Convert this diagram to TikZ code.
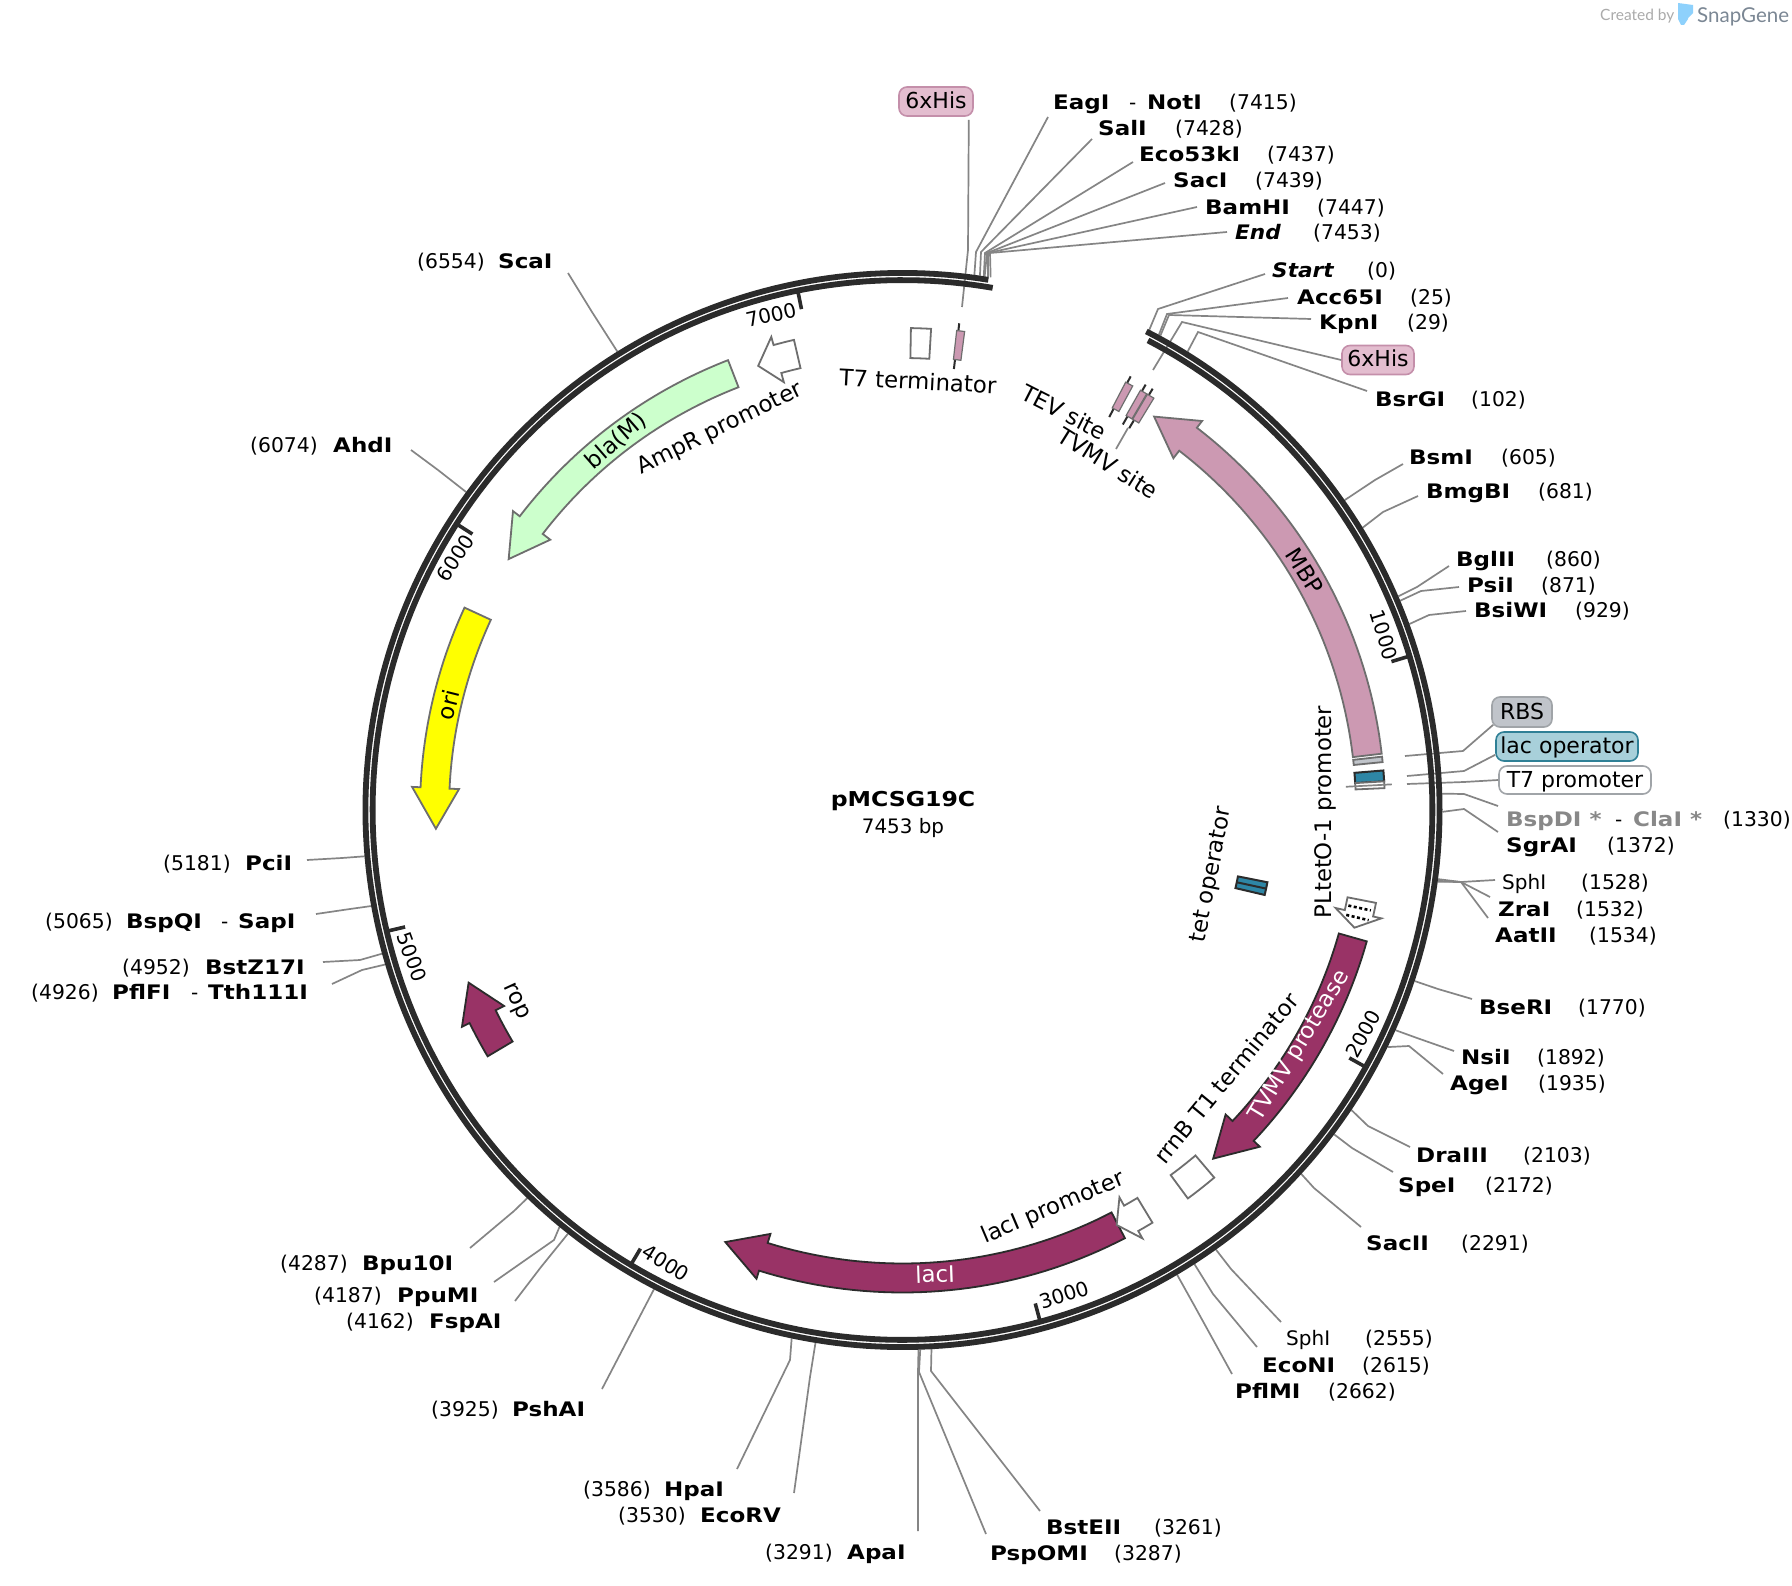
\documentclass[tikz,border=0pt]{standalone}
\usepackage{fontspec}
\setmainfont{DejaVu Sans}[BoldFeatures={FakeStretch=1.15},BoldItalicFeatures={FakeStretch=1.08}]
\newfontfamily\brandfont{Lato}
\usetikzlibrary{calc}
\definecolor{RingDark}{HTML}{2B2B2B}
\definecolor{LeaderGray}{HTML}{858585}
\definecolor{EdgeGray}{HTML}{6E6E6E}
\definecolor{SiteGray}{HTML}{888888}
\definecolor{PinkFeat}{HTML}{CC99B2}
\definecolor{PinkPill}{HTML}{E3BDCF}
\definecolor{PinkEdge}{HTML}{C48FAA}
\definecolor{GreenFeat}{HTML}{CCFFCC}
\definecolor{YellowFeat}{HTML}{FFFF00}
\definecolor{Magenta}{HTML}{993366}
\definecolor{BlueFeat}{HTML}{2E86A5}
\definecolor{BluePill}{HTML}{A8D0DA}
\definecolor{BlueEdge}{HTML}{2F8096}
\definecolor{GrayPill}{HTML}{C0C4CA}
\definecolor{GrayEdge}{HTML}{A0A4A8}
\definecolor{LogoBlue}{HTML}{8ED1FC}
\definecolor{LogoText}{HTML}{7B8794}
\tikzset{
  ring/.style={draw=RingDark,line width=5.8pt},
  tickmark/.style={draw=RingDark,line width=3.6pt},
  leader/.style={draw=LeaderGray,line width=1.7pt},
  site/.style={anchor=base west,inner sep=0pt,font=\bfseries\fontsize{20}{24}\selectfont},
  sitenum/.style={anchor=base west,inner sep=0pt,font=\fontsize{20.3}{24}\selectfont},
  featlabel/.style={inner sep=0pt,font=\fontsize{22.8}{26}\selectfont},
  pill/.style={draw,line width=1.6pt,rounded corners=8pt,inner sep=0pt,
    text height=17pt,text depth=3pt,font=\fontsize{22}{26}\selectfont},
  plainfeat/.style={draw=EdgeGray,line width=1.8pt,line join=miter},
  darkfeat/.style={draw=RingDark,line width=1.8pt,fill=Magenta},
  headline/.style={draw=RingDark,line width=2pt},
}
\newcommand{\arcarrow}[4]{%
  \draw[#1] plot[domain=#2:#3,samples=40] (\x-90:482.5) -- (#3-90:491) -- (#4-90:467)
    -- (#3-90:444) -- plot[domain=#3:#2,samples=40] (\x-90:453.5) -- cycle;}
\newcommand{\arcbox}[5]{%
  \draw[#1] plot[domain=#2:#3,samples=12] (\x-90:#5)
    -- plot[domain=#3:#2,samples=12] (\x-90:#4) -- cycle;}
\begin{document}
\begin{tikzpicture}[x=1pt,y=-1pt,
  declare function={bpang(\p)=-62.8+\p*0.04592;}]
  \useasboundingbox (0,0) rectangle (1792,1586);
  \fill[white] (0,0) rectangle (1792,1586);
  \coordinate (ctr) at (902.5,810);

  \node[pill,fill=PinkPill,draw=PinkEdge,minimum width=74pt,minimum height=29pt] (histop) at (936,101.5) {6xHis};
  \node[pill,fill=PinkPill,draw=PinkEdge,minimum width=72pt,minimum height=29pt] (hisright) at (1378,360) {6xHis};
  \node[pill,fill=GrayPill,draw=GrayEdge,minimum width=60pt,minimum height=30pt] (rbs) at (1522,712) {RBS};
  \node[pill,fill=BluePill,draw=BlueEdge,minimum width=142pt,minimum height=29pt] (lacop) at (1567,746.5) {lac operator};
  \node[pill,fill=white,draw=GrayEdge,minimum width=152pt,minimum height=28pt] (tsevenprom) at (1575,780) {T7 promoter};

  \coordinate (histopend) at (962,307);
  \coordinate (hisrightend) at (1153,370);
  \coordinate (rbsend) at (1405,756);
  \coordinate (lacopend) at (1407,776);
  \coordinate (tsevenend) at (1407,784);
  \draw[leader] (histopend) -- (968,250) -- ($(histop.south east)+(-5,3)$);
  \draw[leader] (hisrightend) -- (1182,322) -- (hisright.west);
  \draw[leader] (rbsend) -- (1463,751) -- ($(rbs.south west)+(2,-3)$);
  \draw[leader] (lacopend) -- (1464,771) -- ($(lacop.south west)+(0,-7)$);
  \draw[leader] (tsevenend) -- (1464,782) -- (tsevenprom.west);

  \foreach \nm/\txt/\lx/\ly/\nx/\bp/\kx/\ky/\ex/\ey in {
    eag/EagI/1053/102.5/1229/7415/976/252/1048/117,
    sal/SalI/1098/128/1175/7428/981/252/1092/139,
    ecofive/Eco53kI/1139/154/1267/7437/985/253/1133/162,
    sac/SacI/1173/180/1255/7439/987/253/1165/183,
    bam/BamHI/1205/207/1317/7447/988/253/1197/207,
    endsite/\textit{End}/1235/232/1313/7453/990/253/1227/232,
    startsite/\textit{Start}/1272/270.5/1367/0/1158/309/1265/274,
    acc/Acc65I/1297/297/1410/25/1167/314/1288/298,
    kpn/KpnI/1319/322/1407/29/1169/315/1311/319,
    bsrg/BsrGI/1375/399/1471/102/1198/332/1367/391,
    bsm/BsmI/1409/457/1501/605/1375/480/1403/464,
    bmg/BmgBI/1426/491/1538/681/1383/512/1418/496,
    bgl/BglII/1456/559/1546/860/1417/587/1449/566,
    psi/PsiI/1467/585/1541/871/1421/591/1459/587,
    bsiw/BsiWI/1474/610/1575/929/1429/615/1466/611,
    bspd/\textcolor{SiteGray}{BspDI *}/1506/819/1723/1330/1464/794/1498/806,
    sgra/SgrAI/1506/845/1607/1372/1464/809/1498/832,
    sphone/\mdseries SphI/1502/882/1581/1528/1461/882/1495/880,
    zra/ZraI/1498/909/1576/1532/1461/882/1490/897,
    aat/AatII/1495/935/1589/1534/1461/882/1488/918,
    bser/BseRI/1479/1007/1578/1770/1438/989/1472/999,
    nsi/NsiI/1461/1057/1537/1892/1417/1038/1454/1051,
    age/AgeI/1450/1083/1538/1935/1409/1046/1443/1074,
    dra/DraIII/1416/1155/1523/2103/1368/1126/1410/1147,
    spe/SpeI/1398/1185/1485/2172/1352/1148/1393/1172,
    sactwo/SacII/1366/1243/1461/2291/1314/1188/1361/1227,
    sphtwo/\mdseries SphI/1286/1338/1365/2555/1231/1269/1281/1322,
    econ/EcoNI/1262/1365/1362/2615/1213/1294/1257/1347,
    pflm/PflMI/1235/1391/1328/2662/1194/1305/1232/1374,
    bste/BstEII/1046/1527/1154/3261/931/1371/1040/1511,
    pspo/PspOMI/990/1553/1114/3287/919/1372/986/1534,
    apa/ApaI/847/1552/765/3291/918/1372/918/1531,
    ecorv/EcoRV/700/1515/618/3530/810/1377/794/1493,
    hpa/HpaI/664/1489/583/3586/790/1360/737/1469,
    psha/PshAI/512/1409/431/3925/628/1339/602/1389,
    fsp/FspAI/429/1321/346/4162/541/1267/515/1301,
    ppu/PpuMI/397/1295/314/4187/554/1240/494/1282,
    bpu/Bpu10I/362/1263/280/4287/514/1211/470/1248,
    pflf/PflFI/112/992/31/4926/362/970/332/984,
    bstz/BstZ17I/205/967/122/4952/360/960/323/962,
    bspq/BspQI/126/921/45/5065/350/909/316/914,
    pci/PciI/245/863/163/5181/342/858/307/860,
    ahd/AhdI/333/445/250/6074/438/470/411/450,
    sca/ScaI/498/261/417/6554/592/312/568/273} {
    \node[site] (\nm) at (\lx,\ly+7.2) {\txt};
    \node[sitenum] (\nm num) at (\nx,\ly+7.2) {(\bp)};
    \coordinate (\nm ring) at ($(ctr)+({bpang(\bp)}:540)$);
    \coordinate (\nm knee) at (\kx,\ky);
    \coordinate (\nm end) at (\ex,\ey);
    \draw[leader] (\nm ring) -- (\nm knee) -- (\nm end);
  }
  \foreach \nm/\txt/\lx/\ly in {
    eagdash/\mdseries -/1129/102.5, noti/NotI/1147/102.5,
    bspdash/\mdseries -/1615/819, cla/\textcolor{SiteGray}{ClaI *}/1633/819,
    pflfdash/\mdseries -/191/992, tth/Tth111I/208/992,
    bspqdash/\mdseries -/221/921, sap/SapI/238/921} {
    \node[site] (\nm) at (\lx,\ly+7.2) {\txt};
  }

  \begin{scope}[shift={(ctr)}]
    \draw[ring] plot[domain=27:369.2,samples=300] (\x-90:537.1);
    \draw[ring] plot[domain=27.6:369.8,samples=300] (\x-90:529.9);
    \foreach \p in {1000,2000,...,7000} {
      \draw[tickmark] ({bpang(\p)}:528) -- ({bpang(\p)}:511);
    }
    \arcarrow{plainfeat,fill=PinkFeat}{83.3}{37.6}{32.6}
    \arcarrow{plainfeat,fill=GreenFeat}{338.8}{307.5}{302.5}
    \arcarrow{plainfeat,fill=YellowFeat}{294.8}{272.7}{267.7}
    \arcarrow{darkfeat}{105.8}{133.3}{138.3}
    \arcarrow{darkfeat}{152.55}{197.3}{202.3}
    \arcarrow{darkfeat}{239.3}{243.8}{248.3}
    \arcarrow{plainfeat,fill=white}{347}{344.5}{342}
    \arcarrow{plainfeat,fill=white}{148.8}{150.75}{152.7}
    \arcarrow{plainfeat,fill=white}{101.1}{102.75}{104.6}
    \draw[black,line width=2.6pt,dash pattern=on 3pt off 2.5pt] (12.1:456) -- (12.1:479);
    \draw[black,line width=2.6pt,dash pattern=on 3pt off 2.5pt] (13.3:456) -- (13.3:479);
    \arcbox{plainfeat,fill=white}{1.0}{3.4}{452}{482}
    \arcbox{plainfeat,fill=white}{139.7}{143.7}{453}{482}
    \arcbox{plainfeat,fill=GrayPill}{83.65}{84.3}{453.5}{482.5}
    \arcbox{headline,fill=BlueFeat}{85.3}{86.6}{453.5}{482.5}
    \arcbox{plainfeat,fill=white}{86.6}{87.4}{453.5}{482.5}
    \draw[leader] (-3:444) -- (-3:490);
    \arcbox{headline,fill=BlueFeat}{101.2}{103.2}{342}{372}
    \draw[headline] (12.2:342) -- (12.2:372);
    \foreach \af/\at/\ah in {6.45/7.4/6.65,27.55/28.5/27.75,29.55/30.4/29.75,30.5/31.4/30.7} {
      \draw[headline] (\ah-90:444) -- (\ah-90:490);
      \arcbox{draw=EdgeGray,line width=1.2pt,fill=PinkFeat}{\af}{\at}{453.5}{482.5}
    }
  \end{scope}

  \foreach \nm/\txt/\x/\y/\rot in {
    tseventerm/T7 terminator/918/381/-3,
    tevsite/TEV site/1064/412/-27,
    tvmvsite/TVMV site/1108/463/-32,
    amprprom/AmpR promoter/720/429/26,
    blam/bla(M)/616/441/41,
    orilab/ori/448/705/76,
    mbplab/MBP/1305/571/-58,
    pltet/PLtetO-1 promoter/1325/812/90,
    tetop/tet operator/1212/875/79,
    tvmvprot/\textcolor{white}{TVMV protease}/1300/1046/59,
    rrnb/rrnB T1 terminator/1226/1078/50.5,
    laciprom/lacI promoter/1053/1208/23,
    lacilab/\textcolor{white}{lacI}/935/1274/2,
    roplab/rop/515/1002/-65} {
    \node[featlabel,rotate=\rot] (\nm) at (\x,\y) {\txt};
  }
  \coordinate (tvmvend) at (1128,428);
  \draw[leader] (1116,449) -- (tvmvend);

  \foreach \p/\x/\y/\rot in {
    1000/1384/635/-73, 2000/1363/1034/61, 3000/1064/1295/18, 4000/666/1263/-32,
    5000/412/957/-70, 6000/455/558/57, 7000/771/315/13} {
    \node[featlabel,font=\fontsize{20}{24}\selectfont,rotate=\rot] (tick\p) at (\x,\y) {\p};
  }

  \node[inner sep=0pt,font=\bfseries\fontsize{20.5}{26}\selectfont] (plasmid) at (903,801) {pMCSG19C};
  \node[inner sep=0pt,font=\fontsize{19.9}{22}\selectfont] (plasmidsize) at (903,828) {7453 bp};

  \node[anchor=base west,inner sep=0pt,text=black!33,font=\brandfont\fontsize{15.5}{18}\selectfont] (createdby) at (1600,21) {Created by};
  \fill[LogoBlue] (1678,3) -- (1693,5) -- (1693,13) -- (1688,18) -- (1688,19) -- (1684,25) -- (1681,25) -- (1678,19) -- cycle;
  \node[anchor=base west,inner sep=0pt,text=LogoText,font=\brandfont\fontsize{20.5}{22}\selectfont] (snapgene) at (1697,23) {SnapGene};
\end{tikzpicture}
\end{document}
